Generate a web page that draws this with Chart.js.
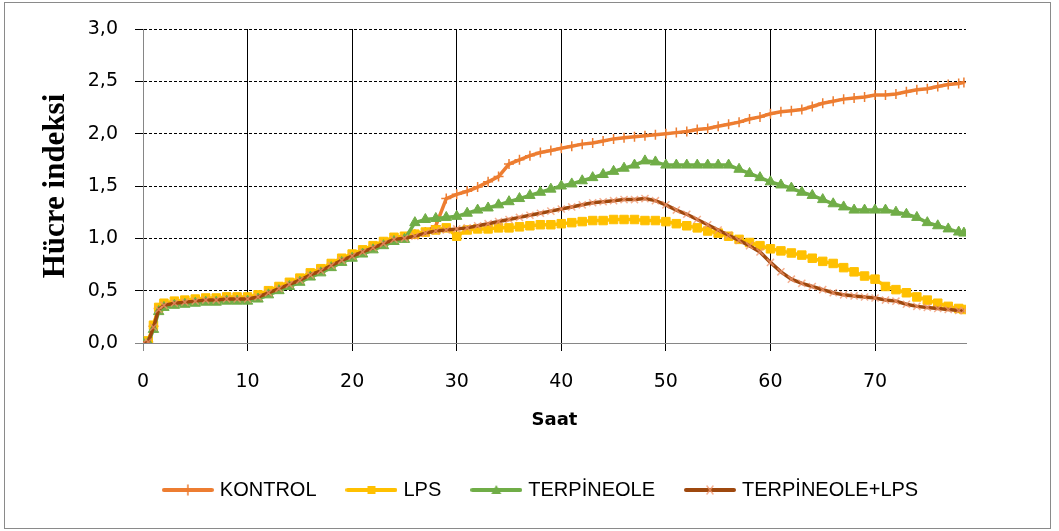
<!DOCTYPE html>
<html>
<head>
<meta charset="utf-8">
<script src="https://cdn.jsdelivr.net/npm/chart.js@4.4.0/dist/chart.umd.min.js"></script>
<style>
  html, body { margin: 0; padding: 0; background: #fff; }
  #wrap { position: relative; width: 1059px; height: 531px; }
  #frame { position: absolute; left: 4px; top: 2px; width: 1045px; height: 525px; border: 1px solid #8a8a8a; pointer-events: none; }
</style>
</head>
<body>
<div id="wrap">
  <canvas id="myChart" width="1059" height="531"></canvas>
  <div id="frame"></div>
</div>
<script>
// time in hours (Saat)
const hours = [0, 0.5, 1, 1.5, 2, 3, 4, 5, 6, 7, 8, 9, 10, 11, 12, 13, 14, 15, 16, 17, 18, 19, 20,
  21, 22, 23, 24, 25, 26, 27, 28, 29, 30, 31, 32, 33, 34, 35, 36, 37, 38, 39, 40, 41, 42, 43, 44,
  45, 46, 47, 48, 49, 50, 51, 52, 53, 54, 55, 56, 57, 58, 59, 60, 61, 62, 63, 64, 65, 66, 67, 68,
  69, 70, 71, 72, 73, 74, 75, 76, 77, 78, 78.5]

const kontrol = [0.00, 0.01, 0.16, 0.33, 0.37, 0.39, 0.40, 0.41, 0.42, 0.42, 0.43, 0.43, 0.43, 0.45,
  0.49, 0.53, 0.57, 0.61, 0.66, 0.70, 0.75, 0.80, 0.84, 0.88, 0.92, 0.96, 1.00, 1.01,
  1.04, 1.06, 1.12, 1.38, 1.42, 1.45, 1.49, 1.54, 1.59, 1.71, 1.75, 1.79, 1.82, 1.84, 1.86, 1.88,
  1.90, 1.91, 1.93, 1.95, 1.96, 1.97, 1.98, 1.99, 2.00, 2.01, 2.02, 2.04, 2.05, 2.07, 2.09, 2.11,
  2.14, 2.16, 2.19, 2.21, 2.22, 2.23, 2.26, 2.29, 2.31, 2.33, 2.34, 2.35, 2.37, 2.37, 2.38, 2.40,
  2.42, 2.43, 2.45, 2.47, 2.48, 2.49]

const lps = [0.00, 0.02, 0.17, 0.34, 0.38, 0.40, 0.41, 0.42, 0.43, 0.43, 0.44, 0.44, 0.44, 0.46,
  0.50, 0.54, 0.58, 0.62, 0.67, 0.71, 0.76, 0.81, 0.85, 0.89, 0.93, 0.97, 1.01, 1.02,
  1.04, 1.06, 1.08, 1.10, 1.02, 1.08, 1.09, 1.09, 1.10, 1.10, 1.11, 1.12, 1.13, 1.13, 1.14, 1.15,
  1.16, 1.17, 1.17, 1.18, 1.18, 1.18, 1.17, 1.17, 1.16, 1.14, 1.12, 1.10, 1.07, 1.05, 1.02, 0.99,
  0.96, 0.93, 0.90, 0.88, 0.86, 0.84, 0.81, 0.78, 0.76, 0.72, 0.68, 0.64, 0.61, 0.54, 0.51, 0.48,
  0.44, 0.41, 0.38, 0.35, 0.33, 0.32]

const terpineole = [0.00, 0.00, 0.13, 0.30, 0.34, 0.36, 0.37, 0.38, 0.39, 0.39, 0.40, 0.40, 0.40, 0.42,
  0.46, 0.50, 0.54, 0.58, 0.63, 0.67, 0.72, 0.77, 0.81, 0.85, 0.89, 0.93, 0.97, 0.99,
  1.15, 1.18, 1.19, 1.20, 1.21, 1.24, 1.27, 1.29, 1.32, 1.35, 1.38, 1.41, 1.44, 1.47, 1.50, 1.52,
  1.55, 1.58, 1.61, 1.64, 1.67, 1.70, 1.74, 1.73, 1.70, 1.70, 1.70, 1.70, 1.70, 1.70, 1.70, 1.66,
  1.62, 1.58, 1.54, 1.51, 1.48, 1.44, 1.41, 1.37, 1.33, 1.30, 1.27, 1.27, 1.27, 1.27, 1.25, 1.23,
  1.20, 1.15, 1.12, 1.09, 1.06, 1.05]

const terpineoleLps = [0.00, 0.01, 0.15, 0.32, 0.36, 0.38, 0.39, 0.40, 0.41, 0.41, 0.42, 0.42, 0.42, 0.44,
  0.48, 0.52, 0.56, 0.60, 0.65, 0.69, 0.74, 0.79, 0.83, 0.87, 0.91, 0.95, 0.99, 1.00,
  1.02, 1.05, 1.07, 1.08, 1.09, 1.10, 1.12, 1.14, 1.16, 1.18, 1.20, 1.22, 1.24, 1.26, 1.28, 1.30,
  1.32, 1.34, 1.35, 1.36, 1.37, 1.37, 1.38, 1.36, 1.32, 1.27, 1.23, 1.18, 1.13, 1.08, 1.03, 0.98,
  0.93, 0.87, 0.77, 0.68, 0.61, 0.57, 0.54, 0.51, 0.48, 0.46, 0.45, 0.44, 0.43, 0.41, 0.40, 0.37,
  0.35, 0.34, 0.33, 0.32, 0.31, 0.31]

const seriesNames = ['KONTROL', 'LPS', 'TERPİNEOLE', 'TERPİNEOLE+LPS']
const yTicks = [0, 0.5, 1, 1.5, 2, 2.5, 3]

const colors = ['#ED7D31', '#FFC000', '#70AD47', '#9E480E']
const markers = ['cross', 'rect', 'triangle', 'crossRot']
const markerColors = ['#ED7D31', '#FFC000', '#70AD47', 'rgba(240,150,110,0.75)']
const markerSizes = [5, 6, 6, 5]

function pairs(values) {
  return hours.map((h, i) => ({ x: h, y: values[i] }))
}

// legend symbol: short thick line with the marker in the middle
function legendSymbol(i) {
  const c = document.createElement('canvas')
  c.width = 52
  c.height = 14
  const g = c.getContext('2d')
  g.strokeStyle = colors[i]
  g.lineWidth = 4
  g.lineCap = 'round'
  g.beginPath()
  g.moveTo(2, 7)
  g.lineTo(50, 7)
  g.stroke()
  g.fillStyle = markerColors[i]
  g.strokeStyle = markerColors[i]
  g.lineWidth = 1.5
  g.beginPath()
  if (markers[i] === 'cross') {
    g.moveTo(26, 2); g.lineTo(26, 12); g.stroke()
  } else if (markers[i] === 'rect') {
    g.fillRect(22, 3, 8, 8)
  } else if (markers[i] === 'triangle') {
    g.moveTo(26, 2); g.lineTo(31, 11); g.lineTo(21, 11); g.closePath(); g.fill()
  } else {
    g.moveTo(23, 3); g.lineTo(29, 11); g.moveTo(29, 3); g.lineTo(23, 11); g.stroke()
  }
  return c
}

const allValues = [kontrol, lps, terpineole, terpineoleLps]

const datasets = seriesNames.map((name, i) => ({
  label: name,
  data: pairs(allValues[i]),
  borderColor: colors[i],
  backgroundColor: colors[i],
  borderWidth: 3.5,
  pointStyle: markers[i],
  pointRadius: markerSizes[i],
  pointBorderWidth: i === 0 || i === 3 ? 1.5 : 1,
  pointBorderColor: markerColors[i],
  pointBackgroundColor: markerColors[i],
  tension: 0,
  order: 3 - i
}))

// move the legend row to where it sits in the original
const shiftLegend = {
  id: 'shiftLegend',
  afterLayout(chart) {
    chart.legend.left += 49
    chart.legend.right += 49
  }
}

const zeroGray = ctx => (ctx.tick && ctx.tick.value === 0) ? '#868686' : '#000000'

const config = {
  type: 'line',
  data: { datasets: datasets },
  options: {
    responsive: false,
    animation: false,
    layout: { padding: { left: 20, right: 93, top: 29, bottom: 21 } },
    scales: {
      x: {
        type: 'linear',
        min: 0,
        max: 78.7,
        afterFit: scale => { scale.height = 104 },
        ticks: {
          stepSize: 10,
          includeBounds: false,
          padding: 20,
          color: '#000',
          font: { family: 'DejaVu Sans', size: 19 },
          maxRotation: 0
        },
        grid: { color: zeroGray, lineWidth: 1, tickLength: 8 },
        border: { display: true, color: '#868686', width: 1 },
        title: {
          display: true,
          text: 'Saat',
          color: '#000',
          font: { family: 'DejaVu Sans', size: 18, weight: 'bold' },
          padding: { top: 0, bottom: 16 }
        }
      },
      y: {
        min: 0,
        max: 3,
        afterFit: scale => { scale.width = 123 },
        afterBuildTicks: scale => { scale.ticks = yTicks.map(v => ({ value: v })) },
        ticks: {
          padding: 17,
          color: '#000',
          font: { family: 'DejaVu Sans', size: 19 },
          callback: v => v.toFixed(1).replace('.', ',')
        },
        grid: { color: zeroGray, lineWidth: 1, tickLength: 8 },
        border: { display: true, color: '#868686', width: 1, dash: [3, 2] },
        title: {
          display: true,
          text: 'Hücre indeksi',
          color: '#000',
          font: { family: 'Liberation Serif', size: 31, weight: 'bold' },
          padding: { top: 17, bottom: 0 }
        }
      }
    },
    plugins: {
      tooltip: { enabled: false },
      legend: {
        position: 'bottom',
        labels: {
          usePointStyle: true,
          pointStyleWidth: 44,
          padding: 33,
          color: '#000',
          font: { family: 'Liberation Sans', size: 20 },
          sort: (a, b) => a.datasetIndex - b.datasetIndex,
          generateLabels: chart => {
            const items = Chart.defaults.plugins.legend.labels.generateLabels(chart)
            items.forEach(it => { it.pointStyle = legendSymbol(it.datasetIndex) })
            return items
          }
        }
      }
    }
  },
  plugins: [shiftLegend]
}

const myChart = new Chart(document.getElementById('myChart'), config)
</script>
</body>
</html>
